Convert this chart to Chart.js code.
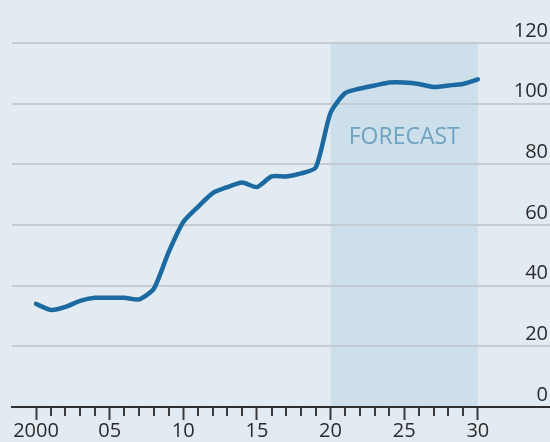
<!DOCTYPE html>
<html>
<head>
<meta charset="utf-8">
<script src="https://cdn.jsdelivr.net/npm/chart.js@4"></script>
<style>
  html, body { margin: 0; padding: 0; background: #e3ebf2; }
  #wrap { width: 550px; height: 442px; }
</style>
</head>
<body>
<div id="wrap"><canvas id="chart"></canvas></div>
<script>
// annual series, 2000-2030 (2020 onwards is the forecast)
const years = [2000, 2001, 2002, 2003, 2004, 2005, 2006, 2007, 2008, 2009,
  2010, 2011, 2012, 2013, 2014, 2015, 2016, 2017, 2018, 2019,
  2020, 2021, 2022, 2023, 2024, 2025, 2026, 2027, 2028, 2029, 2030];
const values = [34, 32, 33, 35, 36, 36, 36, 35.5, 39, 51,
  61, 66, 70.5, 72.5, 74, 72.5, 76, 76, 77, 79,
  97, 103.5, 105, 106, 107, 107, 106.5, 105.5, 106, 106.5, 108];
const yTicks = [0, 20, 40, 60, 80, 100, 120];
const forecastStart = 2020;
const forecastEnd = 2030;
const forecastLabel = 'FORECAST';

const FONT = '"Open Sans", sans-serif';

// shaded forecast band + label, drawn under the grid
const forecastBand = {
  id: 'forecastBand',
  beforeDraw(chart) {
    const { ctx, chartArea, scales } = chart;
    const x0 = scales.x.getPixelForValue(forecastStart);
    const x1 = scales.x.getPixelForValue(forecastEnd);
    ctx.save();
    ctx.fillStyle = '#cddfea';
    ctx.fillRect(x0, chartArea.top + 1, x1 - x0, chartArea.bottom - chartArea.top - 1);
    ctx.fillStyle = '#6ea3c1';
    ctx.font = '23px ' + FONT;
    ctx.textAlign = 'center';
    ctx.textBaseline = 'middle';
    const xm = scales.x.getPixelForValue((forecastStart + forecastEnd) / 2);
    ctx.fillText(forecastLabel, xm, scales.y.getPixelForValue(89));
    ctx.restore();
  },
  // short year ticks between the 5-year ones
  afterDraw(chart) {
    const { ctx, scales } = chart;
    const yAxis = scales.y.getPixelForValue(0);
    ctx.save();
    ctx.strokeStyle = '#3a3a3a';
    ctx.lineWidth = 2;
    years.forEach(yr => {
      if (yr % 5 === 0) return;
      const x = Math.round(scales.x.getPixelForValue(yr));
      ctx.beginPath();
      ctx.moveTo(x, yAxis);
      ctx.lineTo(x, yAxis + 9);
      ctx.stroke();
    });
    ctx.restore();
  }
};

const bgFill = {
  id: 'bgFill',
  beforeDraw(chart) {
    const { ctx, width, height } = chart;
    ctx.save();
    ctx.fillStyle = '#e3ebf2';
    ctx.fillRect(0, 0, width, height);
    ctx.restore();
  }
};

new Chart(document.getElementById('chart'), {
  type: 'line',
  data: {
    datasets: [{
      data: years.map((yr, i) => ({ x: yr, y: values[i] })),
      borderColor: '#1b6aa1',
      borderWidth: 4.5,
      pointRadius: 0,
      tension: 0.22,
      borderCapStyle: 'round',
      borderJoinStyle: 'round'
    }]
  },
  options: {
    responsive: true,
    maintainAspectRatio: false,
    animation: false,
    layout: { padding: { top: 43, left: 12, right: 0, bottom: 0 } },
    plugins: { legend: { display: false }, tooltip: { enabled: false } },
    scales: {
      x: {
        type: 'linear',
        min: 1998.37,
        max: 2034.9,
        afterBuildTicks(axis) {
          axis.ticks = years.filter(yr => yr % 5 === 0).map(v => ({ value: v }));
        },
        grid: {
          drawOnChartArea: false,
          drawTicks: true,
          tickLength: 13,
          tickWidth: 2,
          tickColor: '#3a3a3a'
        },
        border: { display: true, color: '#2e2e2e', width: 2 },
        ticks: {
          padding: -1,
          maxRotation: 0,
          autoSkip: false,
          color: '#2b2b2b',
          font: { family: FONT, size: 20 },
          callback: v => v === 2000 ? '2000' : String(v).slice(2)
        }
      },
      y: {
        position: 'right',
        min: 0,
        max: 120,
        afterBuildTicks(axis) {
          axis.ticks = yTicks.map(v => ({ value: v }));
        },
        grid: {
          color: '#c4ccd3',
          lineWidth: 2,
          drawTicks: false
        },
        border: { display: false },
        ticks: {
          mirror: true,
          padding: -2,
          labelOffset: -12,
          color: '#2b2b2b',
          font: { family: FONT, size: 20 }
        }
      }
    }
  },
  plugins: [bgFill, forecastBand]
});
</script>
</body>
</html>
